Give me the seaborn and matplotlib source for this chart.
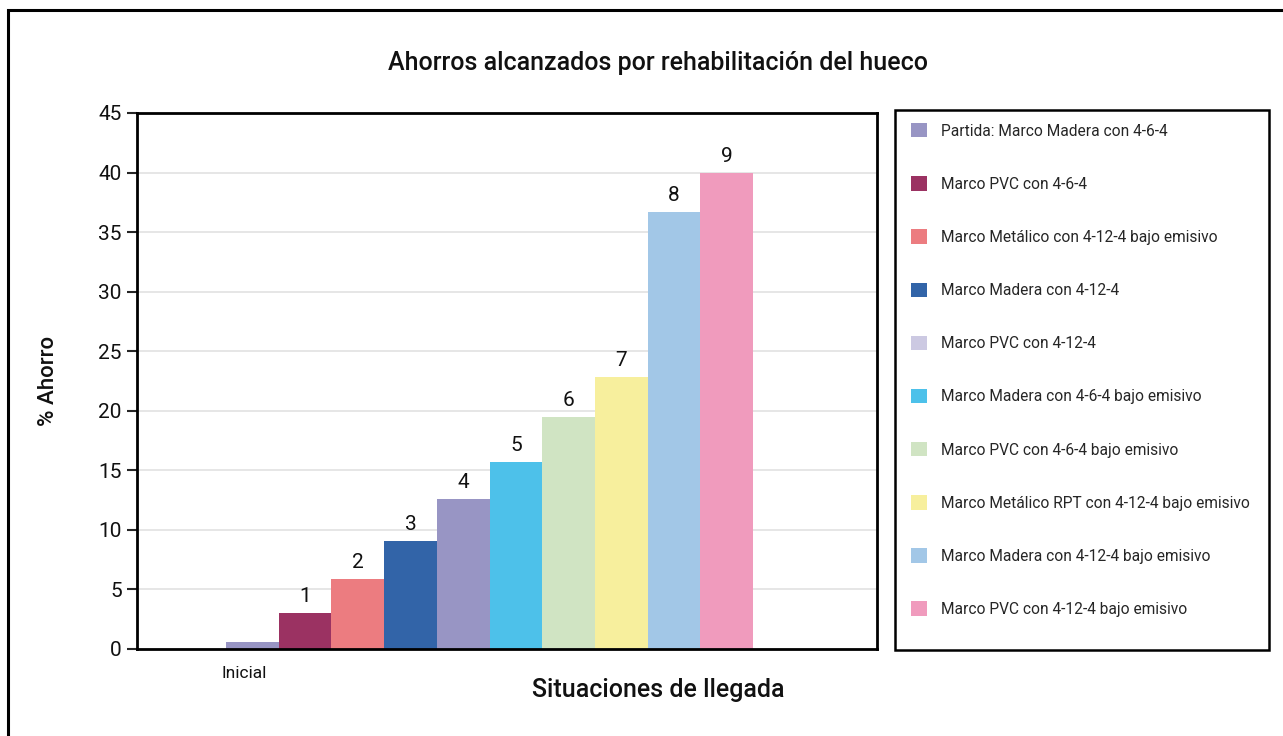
import numpy as np
import pandas as pd
import matplotlib
matplotlib.use('Agg')
import matplotlib.pyplot as plt
from matplotlib.patches import Patch, Rectangle
import seaborn as sns

# Datos del gráfico
situaciones = [
    'Partida: Marco Madera con 4-6-4',
    'Marco PVC con 4-6-4',
    'Marco Metálico con 4-12-4 bajo emisivo',
    'Marco Madera con 4-12-4',
    'Marco PVC con 4-12-4',
    'Marco Madera con 4-6-4 bajo emisivo',
    'Marco PVC con 4-6-4 bajo emisivo',
    'Marco Metálico RPT con 4-12-4 bajo emisivo',
    'Marco Madera con 4-12-4 bajo emisivo',
    'Marco PVC con 4-12-4 bajo emisivo',
]
ahorro = [0.55, 3.0, 5.9, 9.1, 12.6, 15.7, 19.5, 22.8, 36.7, 40.0]
etiquetas = ['', '1', '2', '3', '4', '5', '6', '7', '8', '9']
yticks = [0, 5, 10, 15, 20, 25, 30, 35, 40, 45]

colores_barras = ['#9895c4', '#9b3262', '#ec7c80', '#3264a8', '#9895c4',
                  '#4dc1ea', '#d0e4c3', '#f7ef9d', '#a2c7e7', '#f09bbd']
colores_leyenda = ['#9895c4', '#9b3262', '#ec7c80', '#3264a8', '#ccc9e2',
                   '#4dc1ea', '#d0e4c3', '#f7ef9d', '#a2c7e7', '#f09bbd']

df = pd.DataFrame({'situacion': situaciones, 'ahorro': ahorro})

sns.set_style('white')
plt.rcParams['font.family'] = ['Roboto', 'DejaVu Sans']

W, H = 1283, 736
fig = plt.figure(figsize=(W / 100, H / 100), dpi=100)
ax = fig.add_axes([137 / W, 1 - 649 / H, (877 - 137) / W, (649 - 113) / H])

sns.barplot(data=df, x='situacion', y='ahorro', hue='situacion',
            palette=dict(zip(situaciones, colores_barras)), width=1.0,
            saturation=1, legend=False, linewidth=0, ax=ax)

for cont, txt in zip(ax.containers, etiquetas):
    ax.bar_label(cont, labels=[txt], padding=5, fontsize=15, color='#111111')

ax.set_xlim(-2.19, 11.85)
ax.set_ylim(0, 45)
ax.set_yticks(yticks)
ax.set_yticklabels([str(v) for v in yticks], fontsize=15, color='#111111')
ax.set_xticks([-0.15])
ax.set_xticklabels(['Inicial'], fontsize=12.5, color='#111111')
ax.tick_params(axis='x', length=0, pad=12)
ax.tick_params(axis='y', length=7, width=1.5, direction='out', pad=4, left=True)
ax.yaxis.grid(True, color='#e2e2e2', lw=1.2)
ax.set_axisbelow(True)
for s in ax.spines.values():
    s.set_color('black')
    s.set_linewidth(2)

ax.set_xlabel('Situaciones de llegada', fontsize=18, fontweight='medium', color='#111111')
ax.xaxis.set_label_coords((658 - 137) / (877 - 137), -(690 - 649) / (649 - 113))
ax.xaxis.label.set_va('center')
ax.set_ylabel('% Ahorro', fontsize=16, fontweight='medium', color='#111111', labelpad=28)

fig.text(658 / W, 1 - 63 / H, 'Ahorros alcanzados por rehabilitación del hueco',
         ha='center', va='center', fontsize=18, fontweight='medium', color='#111111')

# Leyenda
handles = [Patch(facecolor=c, edgecolor='none') for c in colores_leyenda]
fig.legend(handles, situaciones, loc='upper left',
           bbox_to_anchor=(911 / W, 1 - 123 / H), frameon=False,
           fontsize=11.2, handlelength=1.05, handleheight=1.05,
           handletextpad=0.9, labelspacing=2.42, borderaxespad=0, borderpad=0)
fig.patches.append(Rectangle((895 / W, 1 - 650 / H), (1269 - 895) / W, (650 - 110) / H,
                             transform=fig.transFigure, fill=False,
                             edgecolor='black', lw=1.8))

# Marco exterior
fig.patches.append(Rectangle((8 / W, -0.05), 1.2, 1 - 10 / H + 0.05,
                             transform=fig.transFigure, fill=False,
                             edgecolor='black', lw=2.2))

fig.savefig('out.png', dpi=100)
